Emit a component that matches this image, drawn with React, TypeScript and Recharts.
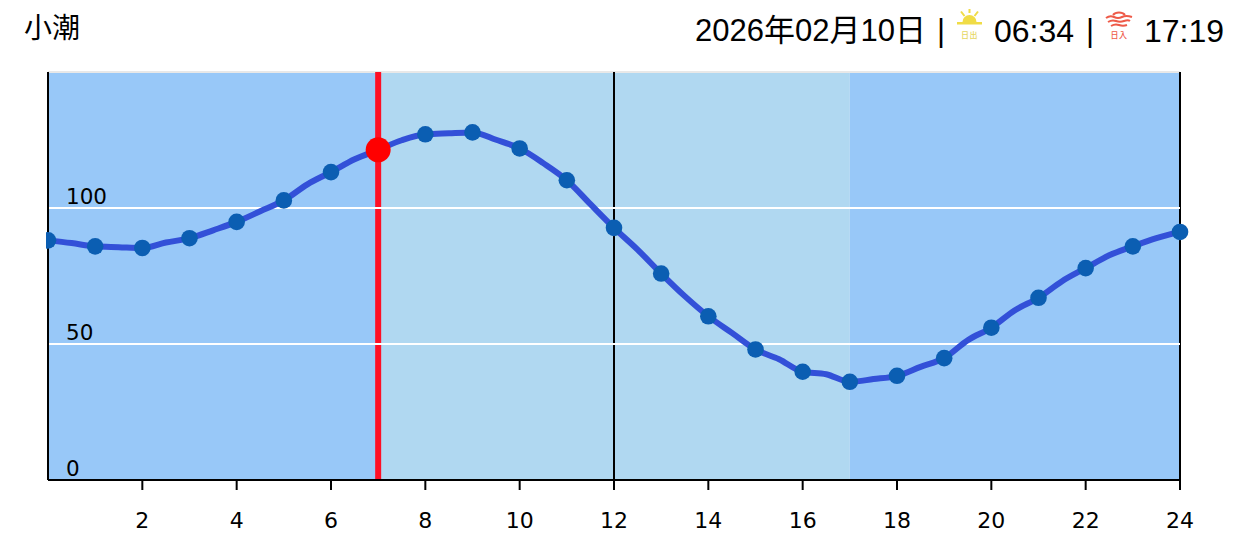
import {
  ComposedChart,
  Line,
  ReferenceArea,
  ReferenceDot,
  ReferenceLine,
  XAxis,
  YAxis,
} from "recharts";

const title = "小潮";
const dateLabel = "2026年02月10日";
const sunriseTime = "06:34";
const sunsetTime = "17:19";

// tide level every half hour, the dots only sit on the whole hours
const hours = [
  0, 0.5, 1, 1.5, 2, 2.5, 3, 3.5, 4, 4.5, 5, 5.5, 6, 6.5, 7, 7.5, 8, 8.5, 9, 9.5,
  10, 10.5, 11, 11.5, 12, 12.5, 13, 13.5, 14, 14.5, 15, 15.5, 16, 16.5, 17, 17.5,
  18, 18.5, 19, 19.5, 20, 20.5, 21, 21.5, 22, 22.5, 23, 23.5, 24,
];
const tideLevels = [
  88.1, 87.1, 85.9, 85.6, 85.3, 87.3, 88.9, 91.8, 94.9, 98.8, 102.8, 108.7, 113.2,
  117.9, 121.4, 124.9, 127.1, 127.5, 127.8, 125.1, 121.9, 116.5, 110.2, 101.4, 92.7,
  84.7, 75.9, 67.6, 60.2, 54.1, 48, 44.4, 39.8, 38.9, 36.1, 37.1, 38.3, 41.6, 44.8,
  51.4, 56, 62.4, 67, 73.1, 77.9, 82.6, 85.9, 88.9, 91.2,
];
const xTicks = [2, 4, 6, 8, 10, 12, 14, 16, 18, 20, 22, 24];
const yTicks = [0, 50, 100];
const gridLevels = [50, 100];
const dayStart = 7;
const dayEnd = 17;
const currentHour = 7;
const currentLevel = 121.4;
const noon = 12;

const data = hours.map((hour, i) => ({ hour, level: tideLevels[i] }));

const LABEL_FONT = '"DejaVu Sans", sans-serif';
const HEADER_FONT = '"Liberation Sans", "Noto Sans CJK JP", sans-serif';
const CJK_FONT = '"Noto Sans CJK JP", sans-serif';

// y labels sit inside the plot, left aligned just above their gridline
function InnerYTick({ x, y, payload }: any) {
  return (
    <text x={x + 26} y={y - 4.5} fontSize={21.5} fontFamily={LABEL_FONT} fill="#000" textAnchor="start">
      {payload.value}
    </text>
  );
}

function HourDot({ cx, cy, payload }: any) {
  if (!Number.isInteger(payload.hour)) return <g key={payload.hour} />;
  // first dot gets cut off just left of the axis
  if (payload.hour === 0) {
    return (
      <g key={payload.hour}>
        <clipPath id="first-dot">
          <rect x={cx - 2} y={cy - 10} width={12} height={20} />
        </clipPath>
        <circle cx={cx} cy={cy} r={8.3} fill="#0b5eb2" clipPath="url(#first-dot)" />
      </g>
    );
  }
  return <circle key={payload.hour} cx={cx} cy={cy} r={8.3} fill="#0b5eb2" />;
}

function SunriseIcon() {
  const c = "#f0dc46";
  return (
    <svg width={28} height={34} style={{ position: "absolute", left: 956, top: 8 }}>
      <path d="M6.5 14 A7 7 0 0 1 20.5 14 Z" fill={c} />
      <rect x={1} y={14} width={25} height={2.5} fill={c} />
      <path d="M13.5 1 V5 M5 3.5 L8.5 8 M22 3.5 L18.5 8" stroke={c} strokeWidth={2} />
      <text x={13.5} y={30} fontSize={8} fontWeight={500} letterSpacing={0.5} textAnchor="middle" fontFamily={CJK_FONT} fill="#e6d660">
        日出
      </text>
    </svg>
  );
}

function SunsetIcon() {
  const c = "#ee5a48";
  return (
    <svg width={30} height={34} style={{ position: "absolute", left: 1104, top: 8 }}>
      <g fill="none" stroke={c} strokeWidth={2}>
        <path d="M9 7 A7 5 0 0 1 21 7" />
        <path d="M2 10 Q6 7 10 9 T18 9 T28 9" />
        <path d="M4 14 Q8 11.5 12 13 T20 13 T26 13" />
        <path d="M7 18 Q11 15.5 15 17 T23 17" />
      </g>
      <text x={15} y={30} fontSize={8} fontWeight={500} letterSpacing={0.5} textAnchor="middle" fontFamily={CJK_FONT} fill={c}>
        日入
      </text>
    </svg>
  );
}

function Header() {
  const base = {
    position: "absolute" as const,
    fontFamily: HEADER_FONT,
    color: "#000",
    whiteSpace: "pre" as const,
    fontSize: 31,
    lineHeight: "34px",
    top: 14,
  };
  return (
    <>
      <div style={{ ...base, left: 24, top: 12, fontSize: 28 }}>{title}</div>
      <div style={{ ...base, left: 695 }}>{dateLabel}</div>
      <div style={{ ...base, left: 937 }}>|</div>
      <SunriseIcon />
      <div style={{ ...base, left: 994, fontSize: 32 }}>{sunriseTime}</div>
      <div style={{ ...base, left: 1086 }}>|</div>
      <SunsetIcon />
      <div style={{ ...base, left: 1144, fontSize: 32 }}>{sunsetTime}</div>
    </>
  );
}

export default function App() {
  return (
    <div style={{ position: "absolute", left: 0, top: 0, width: 1240, height: 545, background: "#fff" }}>
      <Header />
      <ComposedChart
        width={1240}
        height={545}
        data={data}
        margin={{ top: 72, right: 60, bottom: 64, left: 47 }}
      >
        <ReferenceArea x1={0} x2={dayStart} y1={0} y2={150} fill="#98c8f8" fillOpacity={1} stroke="none" />
        <ReferenceArea x1={dayStart} x2={dayEnd} y1={0} y2={150} fill="#b0d8f1" fillOpacity={1} stroke="none" />
        <ReferenceArea x1={dayEnd} x2={24} y1={0} y2={150} fill="#98c8f8" fillOpacity={1} stroke="none" />
        <ReferenceLine y={150} stroke="#e8e8e8" strokeWidth={2} />
        <ReferenceLine x={0} stroke="#000" strokeWidth={2} />
        <ReferenceLine y={0} stroke="#000" strokeWidth={2} />
        <ReferenceLine x={noon} stroke="#000" strokeWidth={2} />
        <ReferenceLine x={24} stroke="#000" strokeWidth={2} />
        <ReferenceLine x={currentHour} stroke="#ff0f24" strokeWidth={6} />
        {gridLevels.map((v) => (
          <ReferenceLine key={v} y={v} stroke="#fff" strokeWidth={2} />
        ))}
        <XAxis
          type="number"
          dataKey="hour"
          domain={[0, 24]}
          ticks={xTicks}
          height={1}
          tickSize={10}
          tickMargin={22}
          axisLine={{ stroke: "#000", strokeWidth: 2 }}
          tickLine={{ stroke: "#000", strokeWidth: 2 }}
          tick={{ fill: "#000", fontSize: 22, fontFamily: LABEL_FONT }}
          interval={0}
        />
        <YAxis
          type="number"
          domain={[0, 150]}
          ticks={yTicks}
          width={1}
          axisLine={{ stroke: "#000", strokeWidth: 2 }}
          tickLine={false}
          tick={InnerYTick}
        />
        <Line
          dataKey="level"
          type="monotone"
          stroke="#3350d8"
          strokeWidth={6}
          dot={HourDot}
          activeDot={false}
          isAnimationActive={false}
        />
        <ReferenceDot x={currentHour} y={currentLevel} r={12.5} fill="#ff0000" stroke="none" />
      </ComposedChart>
    </div>
  );
}
